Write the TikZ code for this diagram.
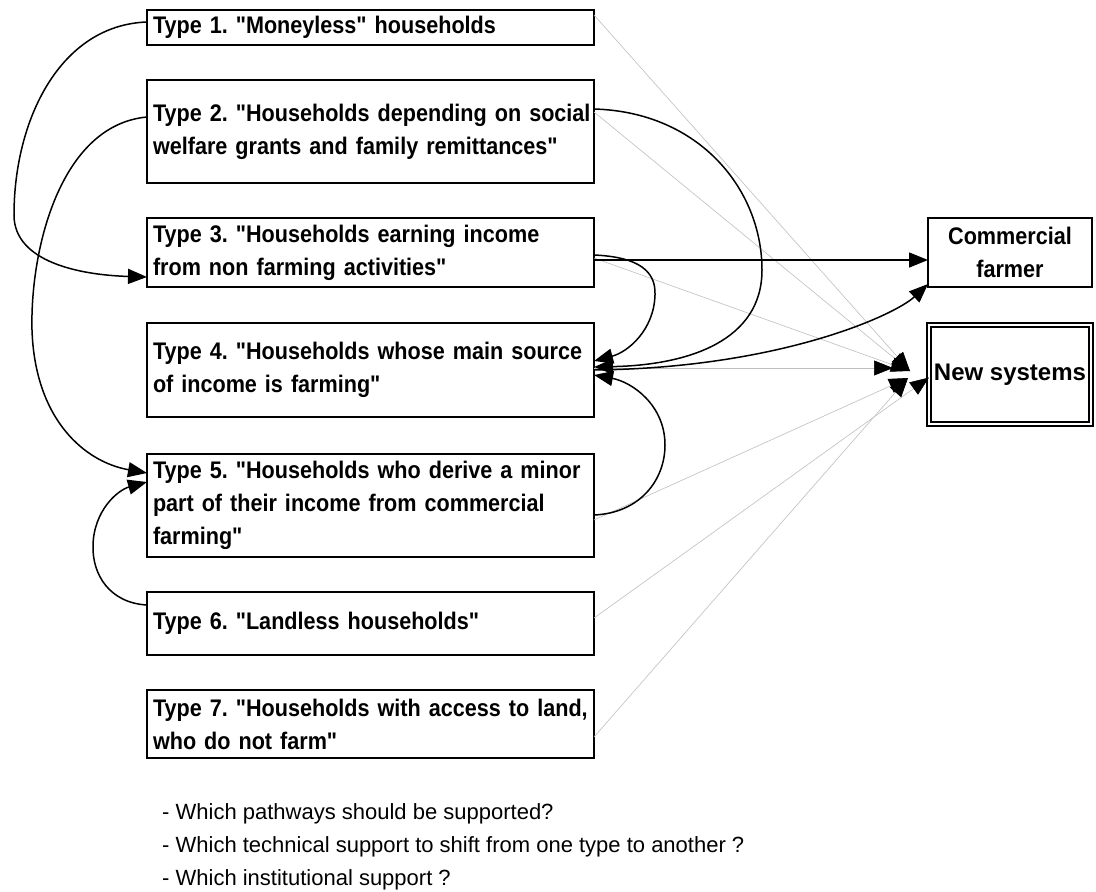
\documentclass[tikz,border=0pt]{standalone}
\usepackage{fontspec}
\setmainfont{Liberation Sans}
\newfontfamily\boxfont{Liberation Sans}[FakeStretch=0.9]
\newfontfamily\wideboxfont{Liberation Sans}
\usetikzlibrary{arrows.meta}
\begin{document}
\frenchspacing
\begin{tikzpicture}[x=1pt, y=-1pt,
  box/.style={draw, line width=2.6pt, outer sep=0pt, anchor=north west,
    inner xsep=6pt, inner ysep=0pt, text width=435pt, align=left,
    font={\boxfont\bfseries\fontsize{24pt}{33pt}\selectfont}},
  sidebox/.style={draw, outer sep=0pt, anchor=north west, inner sep=0pt,
    align=center, font={\boxfont\bfseries\fontsize{24pt}{33pt}\selectfont}},
  conn/.style={line width=1.5pt, -{Triangle[length=19pt,width=15pt]}},
  ghost/.style={draw=black!25, line width=0.6pt,
    -{Triangle[length=19pt,width=15pt,color=black]}},
  note/.style={anchor=north west, align=left, inner sep=0pt,
    font={\fontsize{22pt}{33pt}\selectfont}}]
\useasboundingbox (0,0) rectangle (1096,892);
\fill[white] (0,0) rectangle (1096,892);

% household type boxes
\node[box, minimum height=35pt]  (t1) at (147,10)  {\mbox{Type 1. "Moneyless" households}};
\node[box, minimum height=103pt] (t2) at (147,80)  {\mbox{Type 2. "Households depending on social}\\\mbox{welfare grants and family remittances"}};
\node[box, minimum height=69pt]  (t3) at (147,218) {\mbox{Type 3. "Households earning income}\\\mbox{from non farming activities"}};
\node[box, minimum height=94pt]  (t4) at (147,323) {\mbox{Type 4. "Households whose main source}\\\mbox{of income is farming"}};
\node[box, minimum height=103pt] (t5) at (147,454) {\mbox{Type 5. "Households who derive a minor}\\\mbox{part of their income from commercial}\\\mbox{farming"}};
\node[box, minimum height=63pt]  (t6) at (147,592) {\mbox{Type 6. "Landless households"}};
\node[box, minimum height=68pt]  (t7) at (147,690) {\mbox{Type 7. "Households with access to land,}\\\mbox{who do not farm"}};

% right-hand boxes
\node[sidebox, line width=2.6pt, minimum width=164pt, minimum height=69pt] (cf) at (928,218) {Commercial\\farmer};
\node[sidebox, double, double distance=2.5pt, line width=1.8pt, minimum width=162pt, minimum height=99pt,
  font={\wideboxfont\bfseries\fontsize{24pt}{33pt}\selectfont}] (ns) at (929,325) {New systems};

% convergence points before "New systems"
\coordinate (hubA) at (910,371);
\coordinate (hubB) at (908,378);
\coordinate (hub4) at (893,368);

% thin grey links to New systems
\draw[ghost] ([yshift=-5pt]t1.north east) -- (hubA);
\draw[ghost] ([yshift=-32pt]t2.north east) -- (hubA);
\draw[ghost] ([yshift=-40pt]t3.north east) -- (hubA);
\draw[ghost] ([yshift=2pt]t4.east) -- (hub4);
\draw[ghost] ([yshift=-66pt]t5.north east) -- (hubB);
\draw[ghost] ([yshift=-26pt]t6.north east) -- ([yshift=-3pt]ns.west);
\draw[ghost] ([yshift=-47pt]t7.north east) -- (hubB);

% left-side pathways
\draw[conn] ([yshift=-12pt]t1.north west) .. controls (60,25) and (14,120) .. (14,215)
  .. controls (14,262) and (80,275) .. ([yshift=10pt]t3.south west);
\draw[conn] ([yshift=-37pt]t2.north west) .. controls (60,125) and (30,250) .. (32,330)
  .. controls (35,420) and (85,462) .. ([yshift=-19pt]t5.north west);
\draw[conn] ([yshift=-13pt]t6.north west) .. controls (110,603) and (92,575) .. (93,545)
  .. controls (94,510) and (118,490) .. ([yshift=-28pt]t5.north west);

% right-side pathways
\draw[conn] ([yshift=-29pt]t2.north east) .. controls (700,112) and (762,190) .. (762,270)
  .. controls (762,340) and (690,365) .. ([yshift=-44pt]t4.north east);
\draw[conn] ([yshift=-37pt]t3.north east) .. controls (640,257) and (656,272) .. (655,295)
  .. controls (654,330) and (628,352) .. ([yshift=-38pt]t4.north east);
\draw[conn] ([yshift=-7.5pt]t3.east) -- ([yshift=-7.5pt]cf.west);
\draw[conn] ([yshift=-47pt]t4.north east) .. controls (780,368) and (895,315) .. ([yshift=3pt]cf.south west);
\draw[conn] ([yshift=-61pt]t5.north east) .. controls (640,513) and (665,480) .. (665,445)
  .. controls (665,405) and (632,382) .. ([yshift=-52pt]t4.north east);

% questions
\node[note] (q) at (162,803) {- Which pathways should be supported?\\- Which technical support to shift from one type to another ?\\- Which institutional support ?};
\end{tikzpicture}
\end{document}
